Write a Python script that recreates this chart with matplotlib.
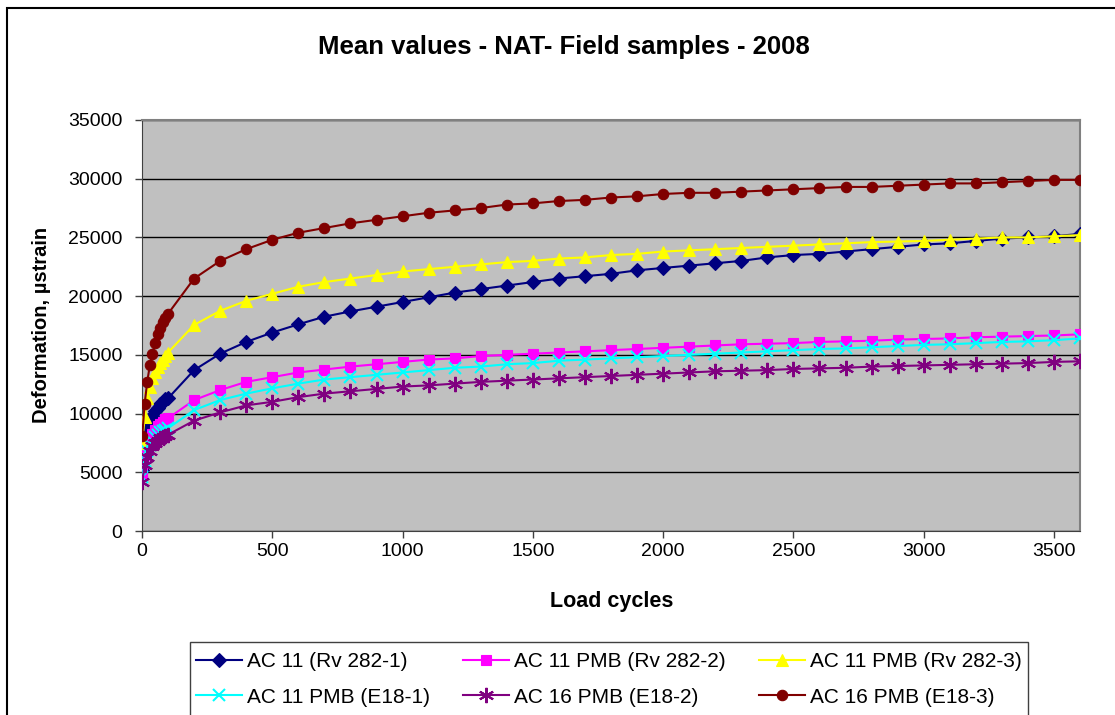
import matplotlib
matplotlib.use("Agg")
import matplotlib.pyplot as plt
from matplotlib.patches import Rectangle

plt.rcParams['font.family'] = ['Liberation Sans', 'DejaVu Sans']

cycles = [1, 10, 20, 30, 40, 50, 60, 70, 80, 90, 100,
          200, 300, 400, 500, 600, 700, 800, 900, 1000,
          1100, 1200, 1300, 1400, 1500, 1600, 1700, 1800, 1900, 2000,
          2100, 2200, 2300, 2400, 2500, 2600, 2700, 2800, 2900, 3000,
          3100, 3200, 3300, 3400, 3500, 3600]

ac11_rv282_1 = [5200, 7500, 8600, 9300, 9800, 10200, 10500, 10800, 11000, 11200, 11300,
                13700, 15100, 16100, 16900, 17600, 18250, 18700, 19100, 19500,
                19900, 20300, 20600, 20900, 21200, 21500, 21700, 21900, 22200, 22400,
                22600, 22800, 23000, 23300, 23500, 23600, 23800, 24000, 24200, 24400,
                24500, 24700, 24900, 25000, 25100, 25300]

ac11pmb_rv282_2 = [4900, 6500, 7300, 7900, 8300, 8600, 8900, 9100, 9300, 9500, 9600,
                   11150, 12000, 12700, 13100, 13500, 13750, 14000, 14200, 14400,
                   14600, 14700, 14900, 15000, 15100, 15200, 15300, 15400, 15500, 15600,
                   15700, 15800, 15900, 15950, 16000, 16100, 16150, 16200, 16300, 16350,
                   16400, 16500, 16550, 16600, 16650, 16750]

ac11pmb_rv282_3 = [7500, 9700, 11300, 12300, 13000, 13500, 14000, 14300, 14600, 14900, 15200,
                   17550, 18750, 19600, 20200, 20800, 21200, 21500, 21800, 22100,
                   22300, 22500, 22700, 22900, 23000, 23200, 23300, 23500, 23600, 23800,
                   23900, 24000, 24100, 24200, 24300, 24400, 24500, 24600, 24650, 24700,
                   24800, 24900, 25000, 25000, 25100, 25200]

ac11pmb_e18_1 = [4600, 6000, 6800, 7300, 7700, 8000, 8200, 8400, 8500, 8600, 8750,
                 10300, 11150, 11700, 12150, 12550, 12900, 13100, 13300, 13500,
                 13700, 13900, 14000, 14200, 14300, 14500, 14600, 14700, 14800, 14900,
                 15000, 15100, 15200, 15300, 15400, 15500, 15550, 15650, 15750, 15850,
                 15900, 16000, 16100, 16150, 16250, 16400]

ac16pmb_e18_2 = [4200, 5600, 6300, 6800, 7200, 7500, 7700, 7900, 8000, 8100, 8200,
                 9400, 10100, 10700, 11000, 11400, 11700, 11900, 12100, 12300,
                 12400, 12550, 12700, 12800, 12900, 13000, 13100, 13200, 13300, 13400,
                 13500, 13600, 13650, 13700, 13800, 13850, 13900, 14000, 14050, 14100,
                 14150, 14200, 14250, 14300, 14400, 14450]

ac16pmb_e18_3 = [8100, 10800, 12700, 14100, 15100, 16000, 16800, 17300, 17800, 18100, 18500,
                 21500, 23000, 24000, 24800, 25400, 25800, 26200, 26500, 26800,
                 27100, 27300, 27500, 27800, 27900, 28100, 28200, 28400, 28500, 28700,
                 28800, 28800, 28900, 29000, 29100, 29200, 29300, 29300, 29400, 29500,
                 29600, 29600, 29700, 29800, 29900, 29900]

labels = ["AC 11 (Rv 282-1)", "AC 11 PMB (Rv 282-2)", "AC 11 PMB (Rv 282-3)",
          "AC 11 PMB (E18-1)", "AC 16 PMB (E18-2)", "AC 16 PMB (E18-3)"]
values = [ac11_rv282_1, ac11pmb_rv282_2, ac11pmb_rv282_3,
          ac11pmb_e18_1, ac16pmb_e18_2, ac16pmb_e18_3]
colors = ["#000080", "#FF00FF", "#FFFF00", "#00FFFF", "#800080", "#800000"]
markers = ["D", "s", "^", "x", (6, 2, 0), "o"]
msizes = [7, 7.5, 9, 9, 11, 7.5]

fig = plt.figure(figsize=(11.15, 7.15), dpi=100)
ax = fig.add_axes([142/1115, 1-531/715, (1080-142)/1115, (531-120)/715])
ax.set_facecolor("#C0C0C0")

handles = []
for label, vals, col, mk, ms in zip(labels, values, colors, markers, msizes):
    thin = mk == "x" or isinstance(mk, tuple)
    h, = ax.plot(cycles, vals, color=col, lw=1.5, marker=mk, markersize=ms,
                 markerfacecolor=col, markeredgecolor=col,
                 markeredgewidth=1.5 if thin else 0.8, label=label, zorder=3)
    handles.append(h)

ax.set_xlim(0, 3600)
ax.set_ylim(0, 35000)
ax.set_xticks(range(0, 3501, 500))
ax.set_yticks(range(0, 35001, 5000))
ax.yaxis.grid(True, color="black", lw=1, zorder=1)
ax.set_axisbelow(True)
for s in ("top", "right"):
    ax.spines[s].set_color("#808080")
    ax.spines[s].set_linewidth(1.5)
ax.spines["left"].set_color("#404040")
ax.spines["bottom"].set_color("#404040")
ax.tick_params(axis="y", labelsize=14, length=5, width=1, color="#404040", pad=9)
ax.tick_params(axis="x", labelsize=14, length=5, width=1, color="#404040", pad=4)

fig.text(564/1115, 1-47/715, "Mean values - NAT- Field samples - 2008", fontsize=18.5,
         fontweight="bold", ha="center", va="center")
fig.text(612/1115, 1-602/715, "Load cycles", fontsize=15.5, fontweight="bold",
         ha="center", va="center")
fig.text(42/1115, 1-325/715, "Deformation, \u00b5strain", fontsize=14.5, fontweight="bold",
         ha="center", va="center", rotation=90)

order = [0, 3, 1, 4, 2, 5]
leg = fig.legend([handles[i] for i in order], [labels[i] for i in order],
                 loc="upper left", bbox_to_anchor=(190/1115, 1-653/715, (1028-190)/1115, 0.01),
                 mode="expand", ncol=3, fontsize=15, frameon=False,
                 handlelength=2.2, handletextpad=0.25,
                 labelspacing=0.8, borderpad=0.3, borderaxespad=0)

fig.patches.append(Rectangle((190/1115, -0.05), (1028-190)/1115, 1-642/715+0.05,
                             transform=fig.transFigure, fill=False,
                             edgecolor="#404040", lw=1.0))

fig.patches.append(Rectangle((7/1115, -0.05), 1.2, 1-8/715+0.05, transform=fig.transFigure,
                             fill=False, edgecolor="black", lw=1.5))

fig.savefig("out.png", dpi=100)
